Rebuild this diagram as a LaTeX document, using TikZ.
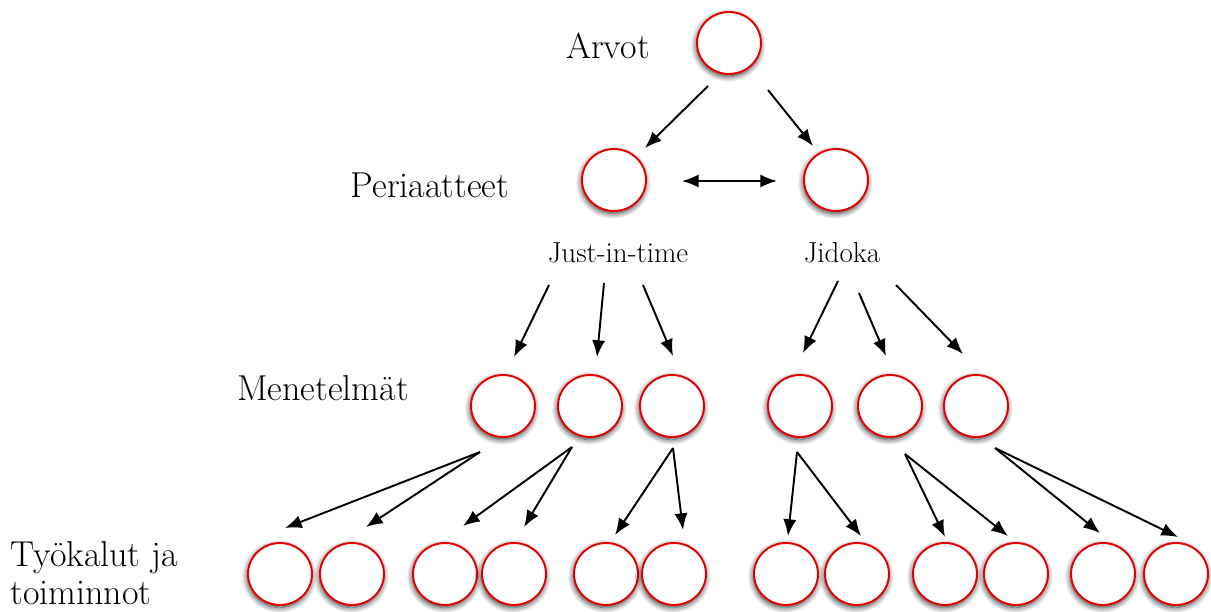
\documentclass[tikz,border=0pt]{standalone}
\usepackage{fontspec}
\usetikzlibrary{arrows.meta,shapes.geometric,shadows.blur}

\tikzset{
  bubble/.style={ellipse, draw=red!90!black, line width=1.1pt, fill=white,
    minimum width=1.28cm, minimum height=1.24cm, inner sep=0pt,
    blur shadow={shadow xshift=-0.4pt, shadow yshift=-1.4pt, shadow blur steps=8,
      shadow blur radius=3.2pt, shadow opacity=80}},
  level/.style={font=\fontsize{20.5}{21.5}\selectfont, inner sep=0pt},
  branch/.style={font=\fontsize{16.5}{20}\selectfont, inner sep=0pt},
  tip/.tip={Latex[length=9.5pt,width=7.5pt]},
  link/.style={line width=1.1pt, -tip},
  twoway/.style={line width=1.1pt, tip-tip}
}

\begin{document}
\begin{tikzpicture}[x=0.02cm, y=-0.02cm]
  \useasboundingbox (0,0) rectangle (1211,612);

  % level captions
  \node[level] (lArvot) at (608,46) {Arvot};
  \node[level] (lPer) at (430,185) {Periaatteet};
  \node[level] (lMen) at (323,388) {Menetelmät};
  \node[level, anchor=north west, align=left] (lTyo) at (10,541) {Työkalut ja\\toiminnot};

  % values and principles
  \node[bubble] (a) at (729,43) {};
  \node[bubble] (p1) at (614,180) {};
  \node[bubble] (p2) at (836,180) {};
  \node[branch] (jit) at (618,253) {Just-in-time};
  \node[branch] (jid) at (842,253) {Jidoka};

  % methods
  \foreach \n/\x in {1/503,2/590,3/672,4/800,5/890,6/976}
    \node[bubble] (m\n) at (\x,406) {};

  % tools and activities
  \foreach \n/\x in {1/280,2/352,3/445,4/514,5/606,6/674,7/786,8/857,9/945,10/1016,11/1103,12/1176}
    \node[bubble] (b\n) at (\x,574) {};

  % arrow end points
  \coordinate (aL) at (708,86);   \coordinate (pL) at (645,148);
  \coordinate (aR) at (768,90);   \coordinate (pR) at (813,146);
  \coordinate (hL) at (682,181);  \coordinate (hR) at (777,181);

  \coordinate (j1) at (549,285);  \coordinate (j1e) at (514,357);
  \coordinate (j2) at (604,283);  \coordinate (j2e) at (597,357);
  \coordinate (j3) at (643,285);  \coordinate (j3e) at (673,356);
  \coordinate (k1) at (838,281);  \coordinate (k1e) at (803,353);
  \coordinate (k2) at (859,293);  \coordinate (k2e) at (886,356);
  \coordinate (k3) at (896,285);  \coordinate (k3e) at (963,354);

  \coordinate (s1) at (480,452);
  \coordinate (s2) at (572,447);
  \coordinate (s3) at (673,448);
  \coordinate (s4) at (797,452);
  \coordinate (s5) at (905,454);
  \coordinate (s6) at (995,448);
  \coordinate (e1) at (285,528);  \coordinate (e2) at (366,527);
  \coordinate (e3) at (463,526);  \coordinate (e4) at (524,527);
  \coordinate (e5) at (615,535);  \coordinate (e6) at (683,530);
  \coordinate (e7) at (788,536);  \coordinate (e8) at (861,536);
  \coordinate (e9) at (945,537);  \coordinate (e10) at (1008,536);
  \coordinate (e11) at (1100,533); \coordinate (e12) at (1178,537);

  % connectors
  \draw[link] (aL) -- (pL);
  \draw[link] (aR) -- (pR);
  \draw[twoway] (hL) -- (hR);

  \draw[link] (j1) -- (j1e);
  \draw[link] (j2) -- (j2e);
  \draw[link] (j3) -- (j3e);
  \draw[link] (k1) -- (k1e);
  \draw[link] (k2) -- (k2e);
  \draw[link] (k3) -- (k3e);

  \draw[link] (s1) -- (e1);  \draw[link] (s1) -- (e2);
  \draw[link] (s2) -- (e3);  \draw[link] (s2) -- (e4);
  \draw[link] (s3) -- (e5);  \draw[link] (s3) -- (e6);
  \draw[link] (s4) -- (e7);  \draw[link] (s4) -- (e8);
  \draw[link] (s5) -- (e9);  \draw[link] (s5) -- (e10);
  \draw[link] (s6) -- (e11); \draw[link] (s6) -- (e12);
\end{tikzpicture}
\end{document}
